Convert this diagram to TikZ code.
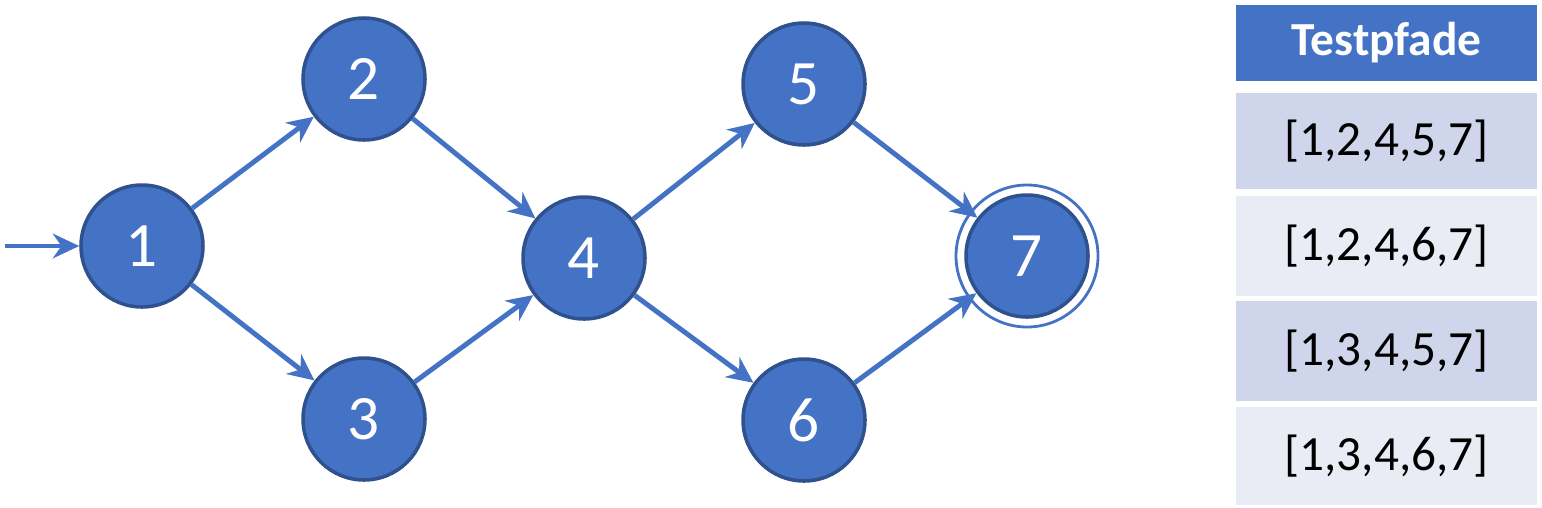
\documentclass[tikz,border=0pt]{standalone}
\usepackage{fontspec}
\setmainfont{Carlito}
\usepackage{tikz}
\usetikzlibrary{positioning,arrows.meta}

\definecolor{nodeblue}{HTML}{4472C4}
\definecolor{nodeedge}{HTML}{2F528F}
\definecolor{rowdark}{HTML}{CFD5EA}
\definecolor{rowlight}{HTML}{E9EBF5}

\begin{document}
\begin{tikzpicture}[roundnode/.style={circle, draw=nodeedge, fill=nodeblue, line width=1pt, minimum size=1.22cm, text=white, font=\fontsize{18}{20}\selectfont},
    ringnode/.style={circle, draw=nodeblue, line width=0.8pt, minimum size=1.42cm},
    edge/.style={-{Stealth[length=7.5pt, width=7pt]}, draw=nodeblue, line width=1.4pt},
    headcell/.style={rectangle, fill=nodeblue, text=white, minimum width=3.01cm, minimum height=0.76cm, font=\fontsize{13.5}{15}\bfseries},
    pathcell/.style={rectangle, minimum width=3.01cm, minimum height=1.0cm, inner ysep=0pt, font=\fontsize{14}{16}\selectfont}]
        \useasboundingbox (0,0) rectangle (15.42,5.07);
        % Nodes
        \node[roundnode] (N1) at (1.42,2.61) {1};
        \node[roundnode] (N2) at (3.64,4.28) {2};
        \node[roundnode] (N3) at (3.64,0.88) {3};
        \node[roundnode] (N4) at (5.84,2.49) {4};
        \node[roundnode] (N5) at (8.04,4.23) {5};
        \node[roundnode] (N6) at (8.04,0.87) {6};
        \node[roundnode] (N7) at (10.27,2.51) {7};
        \node[ringnode] (R7) at (N7) {};
        \coordinate (S) at (0.05,2.61);

        % Edges
        \draw[edge] (S) -- (N1);
        \draw[edge] (N1) -- (N2);
        \draw[edge] (N1) -- (N3);
        \draw[edge] (N2) -- (N4);
        \draw[edge] (N3) -- (N4);
        \draw[edge] (N4) -- (N5);
        \draw[edge] (N4) -- (N6);
        \draw[edge] (N5) -- (N7);
        \draw[edge] (N6) -- (N7);

        % Table
        \node[headcell] (H) at (13.865,4.64) {Testpfade};
        \node[pathcell, fill=rowdark, minimum height=0.96cm] (P1) [below=0.11cm of H] {[1,2,4,5,7]};
        \node[pathcell, fill=rowlight] (P2) [below=0.05cm of P1] {[1,2,4,6,7]};
        \node[pathcell, fill=rowdark] (P3) [below=0.04cm of P2] {[1,3,4,5,7]};
        \node[pathcell, fill=rowlight, minimum height=0.98cm] (P4) [below=0.04cm of P3] {[1,3,4,6,7]};
    \end{tikzpicture}
\end{document}
